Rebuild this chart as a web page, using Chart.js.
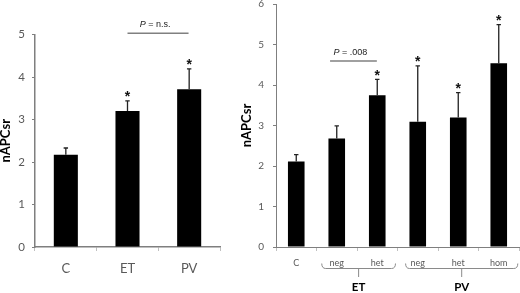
<!DOCTYPE html>
<html><head><meta charset="utf-8">
<script src="https://cdn.jsdelivr.net/npm/chart.js@4.4.0/dist/chart.umd.min.js"></script>
<style>
html,body{margin:0;padding:0;background:#fff;}
#wrap{position:relative;width:520px;height:293px;overflow:hidden;background:#fff}
canvas{position:absolute;top:0}
</style></head><body>
<div id="wrap">
<canvas id="left" width="240" height="293" style="left:0"></canvas>
<canvas id="right" width="284" height="293" style="left:236px"></canvas>
</div>
<script>
// ---- data ----
const leftCategories = ['C', 'ET', 'PV'];
const leftValues = [2.17, 3.20, 3.71];
const leftErrors = [0.16, 0.24, 0.48];
const leftStars = [false, true, true];
const leftTicks = [0, 1, 2, 3, 4, 5];
const leftSig = { from: 1.0, to: 1.99, value: 5.03, text: ' = n.s.' };

const rightCategories = ['C', 'neg', 'het', 'neg', 'het', 'hom'];
const rightValues = [2.11, 2.68, 3.75, 3.09, 3.20, 4.54];
const rightErrors = [0.17, 0.31, 0.39, 1.38, 0.61, 0.95];
const rightStars = [false, false, true, true, true, true];
const rightTicks = [0, 1, 2, 3, 4, 5, 6];
const rightSig = { from: 0.835, to: 1.99, value: 4.59, text: ' = .008' };
const rightGroups = ['ET', 'PV'];
const rightGroupFrom = [0.63, 2.7];
const rightGroupTo = [2.45, 5.47];

// ---- plugin: error bars, stars, significance, group brackets ----
const annot = {
  id: 'annot',
  afterDatasetsDraw(chart, args, o) {
    const ctx = chart.ctx, xs = chart.scales.x, ys = chart.scales.y;
    ctx.save();
    o.values.forEach((v, i) => {
      const px = xs.getPixelForValue(i);
      const y0 = ys.getPixelForValue(v), y1 = ys.getPixelForValue(v + o.errors[i]);
      ctx.strokeStyle = '#222'; ctx.lineWidth = 1.3;
      ctx.beginPath();
      ctx.moveTo(px, y0); ctx.lineTo(px, y1);
      ctx.moveTo(px - 2.2, y1); ctx.lineTo(px + 2.2, y1);
      ctx.stroke();
      if (o.stars[i]) {
        ctx.fillStyle = '#111';
        ctx.font = 'bold 14px "Liberation Sans"';
        ctx.textAlign = 'center'; ctx.textBaseline = 'alphabetic';
        ctx.fillText('*', px, y1 + o.starOff);
      }
    });
    // significance line
    const s = o.sig;
    const sx1 = xs.getPixelForValue(s.from), sx2 = xs.getPixelForValue(s.to), sy = ys.getPixelForValue(s.value);
    ctx.strokeStyle = '#808080'; ctx.lineWidth = 1.5;
    ctx.beginPath(); ctx.moveTo(sx1, sy); ctx.lineTo(sx2, sy); ctx.stroke();
    ctx.fillStyle = '#222'; ctx.textBaseline = 'middle'; ctx.textAlign = 'left';
    ctx.font = 'italic 9px "Liberation Sans"';
    const wp = ctx.measureText('P').width;
    ctx.font = '9px "Liberation Sans"';
    const wr = ctx.measureText(s.text).width;
    let tx = (sx1 + sx2) / 2 - 3 - (wp + wr) / 2;
    const ty = sy - 8.5;
    ctx.font = 'italic 9px "Liberation Sans"';
    ctx.fillText('P', tx, ty);
    ctx.font = '9px "Liberation Sans"';
    ctx.fillText(s.text, tx + wp, ty);
    // group brackets
    if (o.groups) {
      const base = xs.top;
      o.groups.forEach((g, i) => {
        const x1 = xs.getPixelForValue(o.groupFrom[i]), x2 = xs.getPixelForValue(o.groupTo[i]);
        const mid = (x1 + x2) / 2;
        const yTop = base + 16.5, yH = base + 21.5, yTip = base + 30;
        ctx.strokeStyle = '#8a8a8a'; ctx.lineWidth = 1;
        ctx.beginPath();
        ctx.moveTo(x1, yTop);
        ctx.quadraticCurveTo(x1, yH, x1 + 4, yH);
        ctx.lineTo(x2 - 4, yH);
        ctx.quadraticCurveTo(x2, yH, x2, yTop);
        ctx.moveTo(mid, yH); ctx.lineTo(mid, yTip);
        ctx.stroke();
        ctx.fillStyle = '#000';
        ctx.font = 'bold 11.5px Lato';
        ctx.textAlign = 'center'; ctx.textBaseline = 'middle';
        ctx.fillText(g, mid, base + 40.5);
      });
    }
    ctx.restore();
  }
};

function makeChart(id, cats, vals, errs, stars, ticks, sig, opts) {
  return new Chart(document.getElementById(id), {
    type: 'bar',
    data: { labels: cats, datasets: [{ data: vals, backgroundColor: '#000', borderWidth: 0,
      barPercentage: opts.barPct, categoryPercentage: 1 }] },
    options: {
      responsive: false, animation: false, devicePixelRatio: 1,
      layout: { padding: opts.padding },
      plugins: {
        legend: { display: false }, tooltip: { enabled: false },
        annot: { values: vals, errors: errs, stars: stars, starOff: 0.5, sig: sig,
          groups: opts.groups, groupFrom: opts.groupFrom, groupTo: opts.groupTo }
      },
      scales: {
        x: {
          offset: true,
          grid: { display: true, offset: true, drawOnChartArea: false, drawTicks: true, tickLength: 4, color: '#c0c0c0' },
          border: { display: true, color: '#7f7f7f', width: opts.axisW },
          ticks: { color: '#595959', font: { family: 'Lato', size: opts.xFont }, padding: opts.xPad, maxRotation: 0 },
          afterFit: s => { s.height = 46; }
        },
        y: {
          min: 0, max: ticks[ticks.length - 1],
          afterBuildTicks: s => { s.ticks = ticks.map(v => ({ value: v })); },
          ticks: { color: '#595959', font: { family: 'Lato', size: opts.yFont }, padding: opts.yPad },
          grid: { display: true, drawOnChartArea: false, tickLength: 3, color: '#7f7f7f' },
          border: { display: true, color: '#7f7f7f', width: opts.axisW },
          title: { display: true, text: 'nAPCsr', color: '#000', font: { family: 'Lato', size: 13, weight: 'bold' }, padding: { top: opts.titlePad, bottom: 0 } },
          afterFit: s => { s.width = opts.yWidth; s.paddingTop = 0; s.paddingBottom = 0; }
        }
      }
    },
    plugins: [annot]
  });
}

makeChart('left', leftCategories, leftValues, leftErrors, leftStars, leftTicks, leftSig, {
  barPct: 0.39, padding: { left: 0, right: 20, top: 34.5, bottom: 0 }, axisW: 1.5,
  xFont: 13, xPad: 10, yFont: 11.5, yPad: 7, yWidth: 35, titlePad: -2
});
makeChart('right', rightCategories, rightValues, rightErrors, rightStars, rightTicks, rightSig, {
  barPct: 0.41, padding: { left: 0, right: 1, top: 4, bottom: 0 }, axisW: 1,
  xFont: 9, xPad: 7, yFont: 10, yPad: 9, yWidth: 40, titlePad: 3,
  groups: rightGroups, groupFrom: rightGroupFrom, groupTo: rightGroupTo
});
</script>
</body></html>
